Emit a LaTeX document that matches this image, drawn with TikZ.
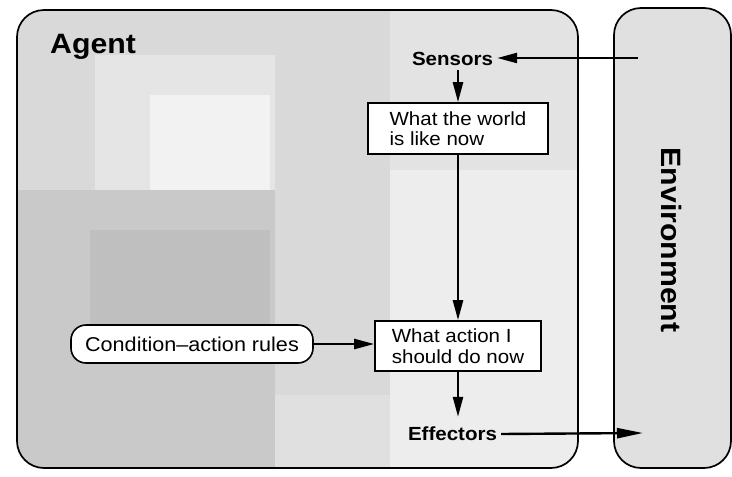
\documentclass[tikz,border=0pt]{standalone}
\usepackage{fontspec}
\usetikzlibrary{arrows.meta}
\newfontfamily\lsans[FakeStretch=1.08]{Liberation Sans}

\tikzset{
  frame/.style={draw=black, line width=1.7pt, rounded corners=27pt},
  infobox/.style={draw=black, line width=1.6pt, fill=white, align=left,
    font=\lsans\fontsize{19}{20.5}\selectfont, inner sep=0pt},
  rulebox/.style={draw=black, line width=1.6pt, fill=white, rounded corners=15pt,
    font=\lsans\fontsize{20}{22}\selectfont, inner sep=0pt,
    minimum width=242pt, minimum height=38pt},
  portlabel/.style={font=\lsans\bfseries\fontsize{19}{21}\selectfont, inner sep=4pt},
  biglabel/.style={font=\lsans\bfseries\fontsize{28}{30}\selectfont, inner sep=0pt},
  flow/.style={line width=2.4pt, -{Triangle[length=20pt,width=10pt]}},
}

\begin{document}
\begin{tikzpicture}[x=1pt, y=-1pt]
\useasboundingbox (0,0) rectangle (732,477);
\fill[white] (0,0) rectangle (732,477);

% agent panel: grey base with patchy shading
\begin{scope}
  \clip[rounded corners=27pt] (17,10) rectangle (578,468);
  \fill[black!15] (17,10) rectangle (578,468);
  \fill[black!10] (95,55) rectangle (275,195);
  \fill[black!5]  (150,95) rectangle (270,190);
  \fill[black!21] (17,190) rectangle (275,468);
  \fill[black!25] (90,230) rectangle (270,335);
  \fill[black!12] (275,395) rectangle (390,468);
  \fill[black!11] (390,10) rectangle (578,170);
  \fill[black!7]  (390,170) rectangle (578,468);
\end{scope}
\draw[frame] (17,10) rectangle (578,468);

% environment panel
\fill[black!12, rounded corners=27pt] (614,8) rectangle (731,468);
\draw[frame] (614,8) rectangle (731,468);

% labels and boxes
\node[biglabel, anchor=base west] (agent) at (50,53) {Agent};
\node[biglabel, rotate=-90] (env) at (672,240) {Environment};

\node[portlabel] (sensors) at (452.5,59) {Sensors};
\node[portlabel] (effectors) at (452.5,434) {Effectors};

\node[infobox, minimum width=180pt, minimum height=51pt] (world) at (458,128.5)
  {What the world\\is like now};
\node[infobox, minimum width=166pt, minimum height=50pt] (action) at (458,346)
  {What action I\\should do now};
\node[rulebox] (rules) at (192,344) {Condition\textendash action rules};

\coordinate (percept) at (638,58);
\coordinate (act) at (643,433);

% connectors
\draw[flow] (percept) -- (percept -| sensors.east);
\draw[flow] (sensors.south -| world.north) -- (world.north);
\draw[flow] (world.south) -- (action.north);
\draw[flow] (rules.east) -- (rules.east -| action.west);
\draw[flow, shorten >=6pt] (action.south) -- (action.south |- effectors.north);
\draw[line width=2.4pt, -{Triangle[length=26pt,width=10pt]}] (effectors.east) -- (act);
\end{tikzpicture}
\end{document}
